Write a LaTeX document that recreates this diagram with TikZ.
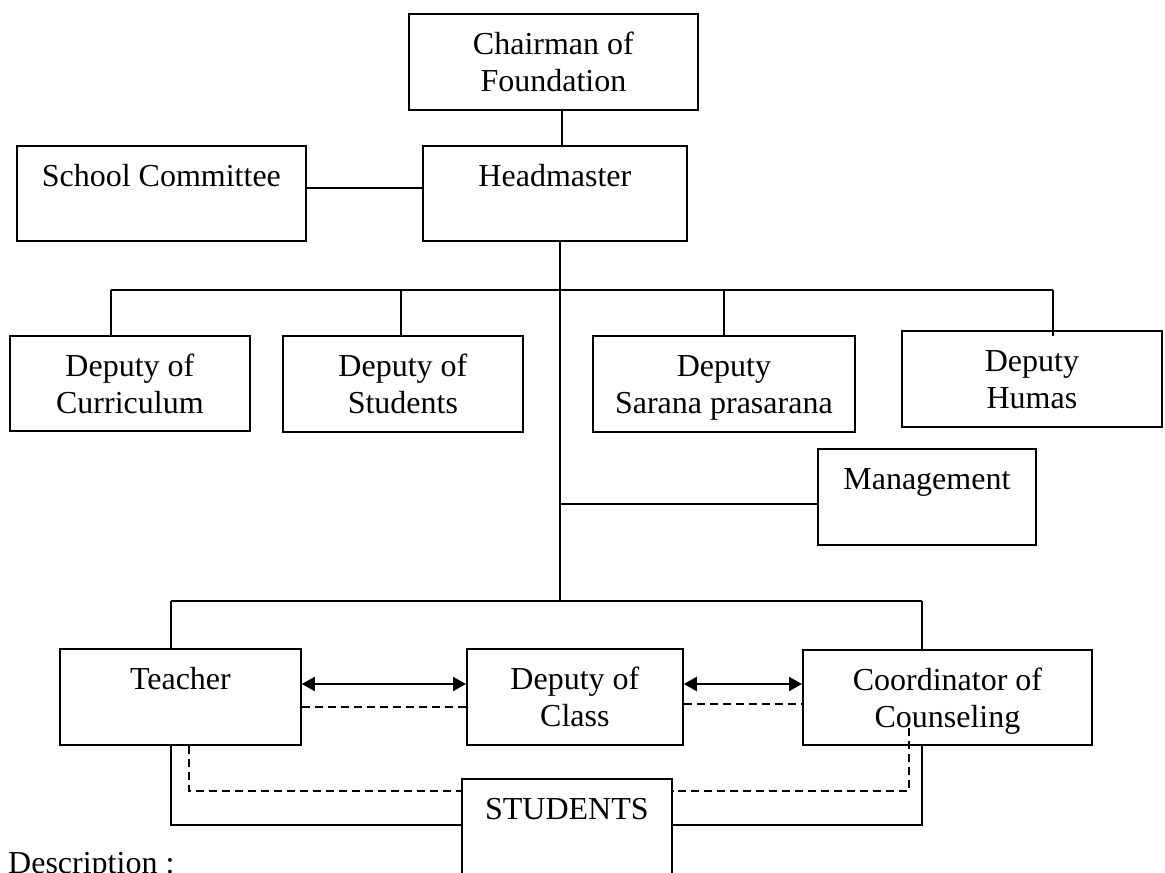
\documentclass[tikz,border=0pt]{standalone}
\usepackage{fontspec}
\setmainfont{Liberation Serif}
\usetikzlibrary{arrows.meta,calc}
\newcommand{\bxt}[3]{\begin{minipage}[c][#2pt][t]{#1pt}\centering\rule{0pt}{41pt}#3\end{minipage}}
\tikzset{
  orgbox/.style={draw, line width=1.8pt, inner sep=0pt, anchor=north west},
  conn/.style={line width=1.6pt},
  dconn/.style={line width=1.6pt, dash pattern=on 8pt off 5pt},
  biarrow/.style={line width=2.2pt, {Triangle[length=13pt,width=14pt]}-{Triangle[length=13pt,width=14pt]}},
  txt/.style={font=\fontsize{32}{37}\selectfont}
}
\begin{document}
\begin{tikzpicture}[x={(1pt,0)}, y={(0,-1pt)}, txt]
\path[use as bounding box, clip] (0,0) rectangle (1165,873);
% boxes
\node[orgbox] (chair) at (408,13) {\bxt{289}{96}{Chairman of\\Foundation}};
\node[orgbox] (head) at (422,145) {\bxt{264}{95}{Headmaster}};
\node[orgbox] (sc) at (16,145) {\bxt{289}{95}{School Committee}};
\node[orgbox] (cur) at (9,335) {\bxt{240}{95}{Deputy of\\Curriculum}};
\node[orgbox] (stu) at (282,335) {\bxt{240}{96}{Deputy of\\Students}};
\node[orgbox] (sar) at (592,335) {\bxt{262}{96}{Deputy\\Sarana prasarana}};
\node[orgbox] (hum) at (901,330) {\bxt{260}{96}{Deputy\\Humas}};
\node[orgbox] (mgt) at (817,448) {\bxt{218}{96}{Management}};
\node[orgbox] (tea) at (59,648) {\bxt{241}{96}{Teacher}};
\node[orgbox] (doc) at (466,648) {\bxt{216}{96}{Deputy of\\Class}};
\node[orgbox] (coo) at (802,649) {\bxt{289}{95}{Coordinator of\\Counseling}};
\node[orgbox] (std) at (461,778) {\bxt{210}{130}{STUDENTS}};
\node[anchor=base west, inner sep=0pt] (desc) at (8,873) {Description :};
% helper coordinates
\coordinate (cx) at (562,0);
\coordinate (ly) at (0,188);
\coordinate (tx) at (560,0);
\coordinate (ubl) at (111,290);
\coordinate (ubr) at (1053,290);
\coordinate (d2) at (401,290);
\coordinate (d3) at (724,290);
\coordinate (mgy) at (0,504);
\coordinate (lbl) at (171,601);
\coordinate (lbr) at (922,601);
\coordinate (ay) at (0,684);
\coordinate (dy1) at (0,707);
\coordinate (dy2) at (0,704);
\coordinate (sy) at (0,825);
\coordinate (dyy) at (0,791);
\coordinate (dx1) at (189,0);
\coordinate (dx2) at (909,728);
% connectors
\draw[conn] (chair.south -| cx) -- (head.north -| cx);
\draw[conn] (sc.east |- ly) -- (head.west |- ly);
\draw[conn] (head.south -| tx) -- (tx |- lbl);
\draw[conn] (ubl) -- (ubr);
\draw[conn] (ubl) -- (ubl |- cur.north);
\draw[conn] (d2) -- (d2 |- stu.north);
\draw[conn] (d3) -- (d3 |- sar.north);
\draw[conn] (ubr) -- ($(ubr |- hum.north)+(0,6)$);
\draw[conn] (tx |- mgy) -- (mgy -| mgt.west);
\draw[conn] (lbl) -- (lbr);
\draw[conn] (lbl) -- (lbl |- tea.north);
\draw[conn] (lbr) -- (lbr |- coo.north);
\draw[biarrow] (tea.east |- ay) -- (doc.west |- ay);
\draw[biarrow] (doc.east |- ay) -- (coo.west |- ay);
\draw[dconn] (tea.east |- dy1) -- (doc.west |- dy1);
\draw[dconn] (doc.east |- dy2) -- (coo.west |- dy2);
\draw[conn] (tea.south -| lbl) -- (lbl |- sy) -- (sy -| std.west);
\draw[dconn] (tea.south -| dx1) -- (dx1 |- dyy) -- (dyy -| std.west);
\draw[conn] (coo.south -| lbr) -- (lbr |- sy) -- (sy -| std.east);
\draw[dconn] (dx2) -- (dx2 |- dyy) -- (dyy -| std.east);
\end{tikzpicture}
\end{document}
